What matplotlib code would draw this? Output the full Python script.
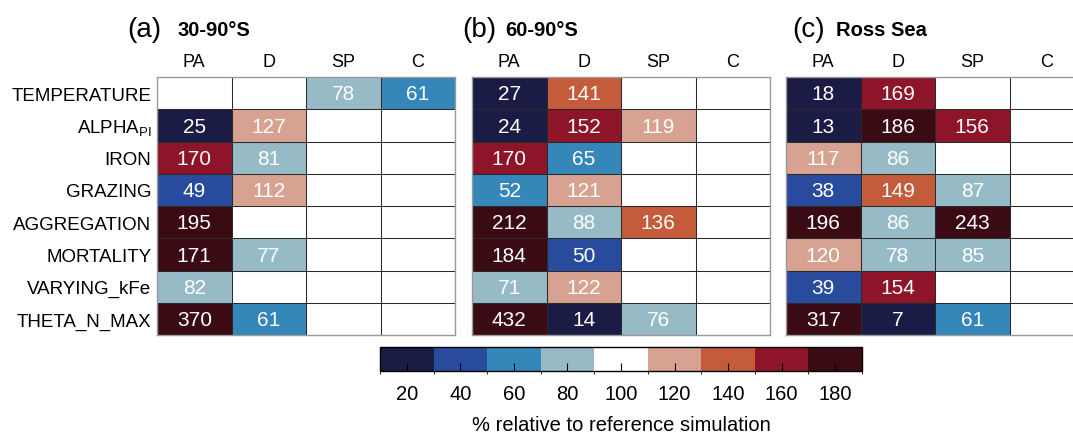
import numpy as np
import matplotlib
matplotlib.use('Agg')
import matplotlib.pyplot as plt
from matplotlib.colors import ListedColormap, BoundaryNorm, Normalize
from matplotlib.cm import ScalarMappable

plt.rcParams['font.family'] = ['Liberation Sans', 'DejaVu Sans']

experiments = ['TEMPERATURE', r'ALPHA$_{\mathregular{PI}}$', 'IRON', 'GRAZING',
               'AGGREGATION', 'MORTALITY', 'VARYING_kFe', 'THETA_N_MAX']
groups = ['PA', 'D', 'SP', 'C']
nan = np.nan

# % change relative to the reference run, rows = experiments, cols = groups
south_30_90 = [
    [nan, nan, 78, 61],
    [25, 127, nan, nan],
    [170, 81, nan, nan],
    [49, 112, nan, nan],
    [195, nan, nan, nan],
    [171, 77, nan, nan],
    [82, nan, nan, nan],
    [370, 61, nan, nan],
]
south_60_90 = [
    [27, 141, nan, nan],
    [24, 152, 119, nan],
    [170, 65, nan, nan],
    [52, 121, nan, nan],
    [212, 88, 136, nan],
    [184, 50, nan, nan],
    [71, 122, nan, nan],
    [432, 14, 76, nan],
]
ross_sea = [
    [18, 169, nan, nan],
    [13, 186, 156, nan],
    [117, 86, nan, nan],
    [38, 149, 87, nan],
    [196, 86, 243, nan],
    [120, 78, 85, nan],
    [39, 154, nan, nan],
    [317, 7, 61, nan],
]

panel_tags = ['(a)', '(b)', '(c)']
panel_names = ['30-90°S', '60-90°S', 'Ross Sea']

bounds = [10, 30, 50, 70, 90, 110, 130, 150, 170, 190]
cbar_ticks = [20, 40, 60, 80, 100, 120, 140, 160, 180]
colors = ['#1b1c45', '#284b9e', '#3587ba', '#97bac7', '#ffffff',
          '#d8a292', '#c45c3c', '#8e1429', '#3b0b14']
cmap = ListedColormap(colors)
cmap.set_bad('white')

W, H = 1073, 435
fig = plt.figure(figsize=(W / 100, H / 100), dpi=100)

lefts = [157, 472, 786]
tag_x = [127, 462, 792]
name_x = [177, 505, 836]

for k, data in enumerate([south_30_90, south_60_90, ross_sea]):
    vals = np.ma.masked_invalid(np.array(data, dtype=float))
    # right-closed bins: 50 -> (30, 50], 170 -> (150, 170]
    idx = np.digitize(vals.filled(100), bounds[1:-1], right=True)
    idx = np.ma.array(idx, mask=vals.mask)

    ax = fig.add_axes([lefts[k] / W, 1 - 336 / H, 298 / W, 258 / H])
    ax.pcolormesh(idx, cmap=cmap, norm=Normalize(-0.5, 8.5),
                  edgecolors='none', antialiased=False)
    ax.hlines(np.arange(1, 8), 0, 4, color='#2a2a2a', linewidth=0.75)
    ax.vlines(np.arange(1, 4), 0, 8, color='#2a2a2a', linewidth=0.75)
    ax.set_xlim(0, 4)
    ax.set_ylim(8, 0)
    for i in range(8):
        for j in range(4):
            if not vals.mask[i, j]:
                ax.text(j + 0.5, i + 0.52, f'{vals[i, j]:.0f}', color='white',
                        ha='center', va='center', fontsize=15)
    ax.xaxis.tick_top()
    ax.set_xticks(np.arange(4) + 0.5)
    ax.set_xticklabels(groups, fontsize=13)
    ax.tick_params(axis='x', length=0, pad=5)
    ax.set_yticks(np.arange(8) + 0.5)
    if k == 0:
        ax.set_yticklabels(experiments, fontsize=13.5)
        ax.tick_params(axis='y', length=0, pad=4)
    else:
        ax.set_yticklabels([])
        ax.tick_params(axis='y', length=0)
    for s in ax.spines.values():
        s.set_color('#9a9a9a')
        s.set_linewidth(1.0)

    fig.text(tag_x[k] / W, 1 - 30 / H, panel_tags[k], fontsize=20,
             ha='left', va='center')
    fig.text(name_x[k] / W, 1 - 30 / H, panel_names[k], fontsize=14.5,
             fontweight='bold', ha='left', va='center')

# colour scale
cax = fig.add_axes([380 / W, 1 - 372 / H, 482 / W, 24 / H])
sm = ScalarMappable(norm=BoundaryNorm(bounds, cmap.N), cmap=cmap)
cb = fig.colorbar(sm, cax=cax, orientation='horizontal', ticks=cbar_ticks)
cb.outline.set_linewidth(1)
cax.tick_params(axis='x', direction='in', length=6, width=0.8,
                labelsize=14.5, pad=9)
cb.set_label('% relative to reference simulation', fontsize=14.5, labelpad=9)

fig.savefig('out.png', dpi=100)
